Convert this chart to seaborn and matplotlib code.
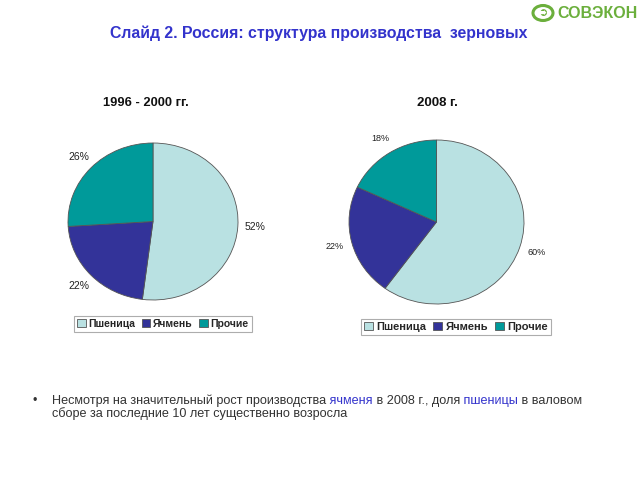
import matplotlib
matplotlib.use("Agg")
import matplotlib.pyplot as plt
import seaborn as sns
from matplotlib.patches import Circle

sns.set_theme(style="white")
plt.rcParams['font.family'] = ['Liberation Sans', 'DejaVu Sans']

categories = ["Пшеница", "Ячмень", "Прочие"]
values_1996 = [52, 22, 26]
values_2008 = [60, 22, 18]
titles = ["1996 - 2000 гг.", "2008 г."]
colors = sns.color_palette(["#B9E1E2", "#333399", "#009A9A"])

W, H = 640, 480
fig = plt.figure(figsize=(W / 100, H / 100), dpi=100)
fig.patch.set_facecolor("white")


def px_axes(x0, y0, x1, y1):
    return fig.add_axes([x0 / W, 1 - y1 / H, (x1 - x0) / W, (y1 - y0) / H])


def draw_pie(ax, vals, lab_size):
    wedges, _, autotexts = ax.pie(
        vals, colors=colors, startangle=90, counterclock=False,
        autopct=lambda p: f"{p:.0f}%", pctdistance=1.2,
        wedgeprops=dict(edgecolor="#555555", linewidth=0.6),
        textprops=dict(fontsize=lab_size, color="#222222"))
    ax.set_xlim(-1, 1)
    ax.set_ylim(-1, 1)
    ax.set_aspect("auto")
    ax.axis("off")
    return wedges


ax1 = px_axes(68, 143, 238, 300)
w1 = draw_pie(ax1, values_1996, 7.5)
ax2 = px_axes(349, 140, 524, 304)
w2 = draw_pie(ax2, values_2008, 6.5)

fig.text(146 / W, 1 - 103 / H, titles[0], ha="center", va="center",
         fontsize=9.3, fontweight="bold", color="#111111")
fig.text(437 / W, 1 - 103 / H, titles[1], ha="center", va="center",
         fontsize=9.5, fontweight="bold", color="#111111")

leg1 = fig.legend(w1, categories, loc="center", bbox_to_anchor=(163 / W, 1 - 324 / H),
                  ncol=3, frameon=True, prop=dict(weight="bold", size=7.5),
                  handlelength=0.8, handleheight=0.8, handletextpad=0.3,
                  columnspacing=0.6, borderpad=0.3, fancybox=False)
leg1.get_frame().set_edgecolor("#999999")
leg1.get_frame().set_linewidth(0.8)
leg2 = fig.legend(w2, categories, loc="center", bbox_to_anchor=(456 / W, 1 - 327 / H),
                  ncol=3, frameon=True, prop=dict(weight="bold", size=8),
                  handlelength=0.8, handleheight=0.8, handletextpad=0.3,
                  columnspacing=0.6, borderpad=0.3, fancybox=False)
leg2.get_frame().set_edgecolor("#999999")
leg2.get_frame().set_linewidth(0.8)

# Title
fig.text(319 / W, 1 - 33 / H, "Слайд 2. Россия: структура производства  зерновых",
         ha="center", va="center", fontsize=11.4, fontweight="bold", color="#3333CC")

# Logo
green = "#6BAF3C"
fig.patches.append(Circle((543 / W, 1 - 13 / H), 10 / W, transform=fig.transFigure,
                          facecolor="none", edgecolor=green, linewidth=2.2))
fig.text(543 / W, 1 - 13 / H, "➲", ha="center", va="center", fontsize=8,
         color=green, family=["DejaVu Sans"])
fig.text(557 / W, 1 - 14 / H, "СОВЭКОН", ha="left", va="center", fontsize=11.5,
         fontweight="bold", color=green)

# Bullet text with coloured words
fig.text(35 / W, 1 - 401 / H, "•", ha="center", va="center", fontsize=9, color="#333333")
renderer = fig.canvas.get_renderer()
parts = [("Несмотря на значительный рост производства", "#333333"),
         (" ячменя", "#3333CC"),
         (" в 2008 г., доля", "#333333"),
         (" пшеницы", "#3333CC"),
         (" в валовом", "#333333")]
x = 52
for txt, col in parts:
    t = fig.text(x / W, 1 - 401 / H, txt, ha="left", va="center", fontsize=9.1, color=col)
    bb = t.get_window_extent(renderer)
    x += bb.width
fig.text(52 / W, 1 - 414 / H, "сборе за последние 10 лет существенно возросла",
         ha="left", va="center", fontsize=9.1, color="#333333")

fig.savefig("out.png", dpi=100, facecolor="white")
